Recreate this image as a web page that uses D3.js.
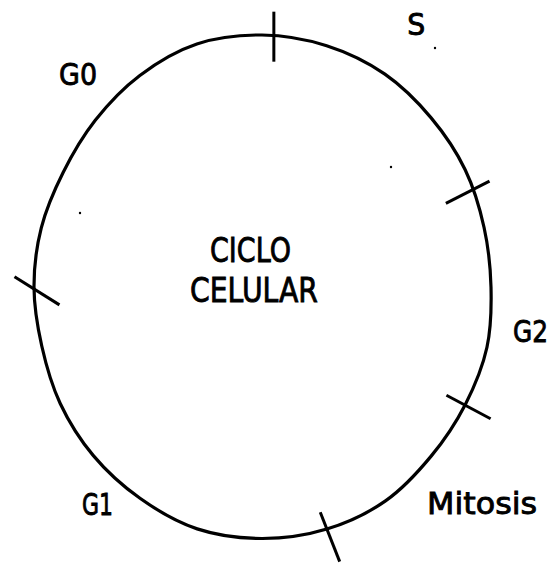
<!DOCTYPE html>
<html>
  <head>
    <meta charset="utf-8" />
    <title>Ciclo celular</title>
    <script src="https://d3js.org/d3.v7.min.js"></script>
    <style>
      body { margin: 0; background: white; }
      text { font-family: "DejaVu Sans", sans-serif; fill: black; stroke: black; stroke-width: 0.9; }
    </style>
  </head>
  <body>
    <svg width="552" height="563" id="cycle"></svg>

    <script>
        // phases of the cycle, clockwise from the top
        var phases = ["S", "G2", "Mitosis", "G1", "G0"];
        // where each phase starts (degrees, clockwise from the top)
        var boundaryAngles = [2.7, 65.2, 120.2, 165.0, 269.5];

        // outline of the (hand drawn) loop: radius read every 15 degrees
        var outlineAngles = [0, 15, 30, 45, 60, 75, 90, 105, 120, 135, 150, 165,
                             180, 195, 210, 225, 240, 255, 270, 285, 300, 315, 330, 345];
        var outlineRadii = [252, 249.8, 245.8, 239.2, 234.6, 229.9, 229, 232.9, 234.8, 239.2, 247, 250.6,
                            251.5, 250.4, 244, 238.5, 233, 228, 228, 228.5, 229.5, 235.8, 244.3, 251.6];

        var centerLines = ["CICLO", "CELULAR"];

        // layout only
        var cx = 262, cy = 287;
        var labelAngle = [30.4, 99.3, 134.4, 217.2, 319.2];
        var labelDist = [305, 272, 308, 272, 281.5];
        var labelWidth = [18, 35, 110, 31, 38];
        var tickTilt = [-90, -27, 28, 68.5, -148];   // outward direction, screen degrees
        var tickOut = [24, 18, 29, 35, 23];
        var tickIn = [26, 31, 21, 18, 30];

        var svg = d3.select("#cycle");
        var g = svg.append("g").attr("transform", "translate(" + cx + "," + cy + ")");

        var rad = d3.scaleLinear()
            .domain([0, 360])
            .range([0, 2 * Math.PI]);

        var radius = d3.scaleLinear()
            .domain(outlineAngles.concat(360))
            .range(outlineRadii.concat(outlineRadii[0]));

        function polar(a, r) {
            return [r * Math.sin(rad(a)), -r * Math.cos(rad(a))];
        }

        // the loop
        var outline = d3.lineRadial()
            .angle(function(d) { return rad(d); })
            .radius(function(d) { return radius(d); })
            .curve(d3.curveCatmullRomClosed);

        g.append("path")
            .attr("d", outline(outlineAngles))
            .attr("fill", "none")
            .attr("stroke", "black")
            .attr("stroke-width", 3.2)
            .attr("stroke-linejoin", "round");

        // tick marks between phases
        g.selectAll("line.tick")
            .data(boundaryAngles)
            .enter().append("line")
            .attr("class", "tick")
            .each(function(a, i) {
                var p = polar(a, radius(a));
                var t = tickTilt[i] * Math.PI / 180;
                d3.select(this)
                    .attr("x1", p[0] - tickIn[i] * Math.cos(t))
                    .attr("y1", p[1] - tickIn[i] * Math.sin(t))
                    .attr("x2", p[0] + tickOut[i] * Math.cos(t))
                    .attr("y2", p[1] + tickOut[i] * Math.sin(t));
            })
            .attr("stroke", "black")
            .attr("stroke-width", 3);

        // phase labels
        g.selectAll("text.phase")
            .data(phases)
            .enter().append("text")
            .attr("class", "phase")
            .attr("x", function(d, i) { return polar(labelAngle[i], labelDist[i])[0] - labelWidth[i] / 2; })
            .attr("y", function(d, i) { return polar(labelAngle[i], labelDist[i])[1] + 11.5; })
            .attr("font-size", 31)
            .attr("textLength", function(d, i) { return labelWidth[i]; })
            .attr("lengthAdjust", "spacingAndGlyphs")
            .text(function(d) { return d; });

        // title in the middle
        var centerX = [250.5, 254];
        var centerBase = [262, 302];
        var centerWidth = [81, 128];
        svg.selectAll("text.center")
            .data(centerLines)
            .enter().append("text")
            .attr("class", "center")
            .attr("x", function(d, i) { return centerX[i] - centerWidth[i] / 2; })
            .attr("y", function(d, i) { return centerBase[i]; })
            .attr("font-size", 34)
            .attr("textLength", function(d, i) { return centerWidth[i]; })
            .attr("lengthAdjust", "spacingAndGlyphs")
            .text(function(d) { return d; });

        // specks from the scanned page
        var specks = [[435, 48], [391, 167], [80, 213]];
        svg.selectAll("circle.speck")
            .data(specks)
            .enter().append("circle")
            .attr("class", "speck")
            .attr("cx", function(d) { return d[0]; })
            .attr("cy", function(d) { return d[1]; })
            .attr("r", 1.2)
            .attr("fill", "black");
    </script>
  </body>
</html>
